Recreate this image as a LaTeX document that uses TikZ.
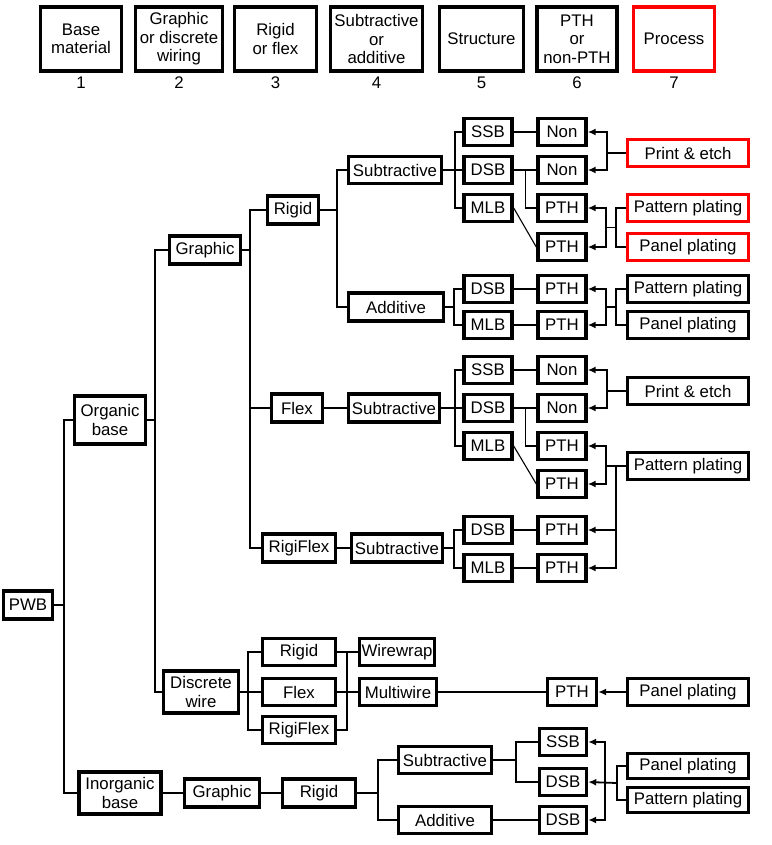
\documentclass[tikz,border=0pt]{standalone}
\usepackage{fontspec}
\setmainfont{Liberation Sans}
\usetikzlibrary{arrows.meta, positioning, calc}

\begin{document}
\begin{tikzpicture}[x=1pt, y=-1pt, font=\fontsize{16.8}{18.5}\selectfont]
    \tikzstyle{block} = [rectangle, draw=black, line width=3.4pt, inner sep=0pt, minimum height=27pt, align=center]
    \tikzstyle{head} = [block, minimum height=64pt]
    \tikzstyle{proc} = [block, minimum width=121pt]
    \tikzstyle{redproc} = [proc, draw=red]
    \tikzstyle{small} = [block, minimum width=48pt]
    \tikzstyle{wire} = [line width=1.8pt]
    \tikzstyle{thin} = [line width=1.1pt]
    \tikzstyle{arrow} = [wire, -{Latex[length=8pt,width=7pt]}]

    \useasboundingbox (0,0) rectangle (771,845);

    % header row
    \node[head, minimum width=81pt] (h1) at (81,39) {Base\\material};
    \node[head, minimum width=87pt] (h2) at (179,39) {Graphic\\or discrete\\wiring};
    \node[head, minimum width=82pt] (h3) at (275.5,39) {Rigid\\or flex};
    \node[head, minimum width=92pt] (h4) at (376.5,39) {Subtractive\\or\\additive};
    \node[head, minimum width=84pt] (h5) at (481.5,39) {Structure};
    \node[head, minimum width=80pt] (h6) at (577,39) {PTH\\or\\non-PTH};
    \node[head, minimum width=81pt, draw=red] (h7) at (674,39) {Process};
    \foreach \i in {1,...,7}
        \node[below=1pt of h\i] (n\i) {\i};

    % base material
    \node[block, minimum width=49pt, minimum height=28pt] (pwb) at (28,605) {PWB};
    \node[block, minimum width=71pt, minimum height=48pt] (orgbase) at (110,420) {Organic\\base};
    \node[block, minimum width=82pt, minimum height=42pt] (inorgbase) at (120,793) {Inorganic\\base};

    % graphic / discrete
    \node[block, minimum width=71pt, minimum height=28pt] (graphic) at (205,250) {Graphic};
    \node[block, minimum width=75pt, minimum height=42pt] (discrete) at (201,692) {Discrete\\wire};

    % rigid / flex
    \node[block, minimum width=51pt, minimum height=28pt] (rigid) at (293,210) {Rigid};
    \node[block, minimum width=51pt, minimum height=28pt] (flex) at (297,408) {Flex};
    \node[block, minimum width=73pt, minimum height=28pt] (rigiflex) at (299,548) {RigiFlex};

    % subtractive / additive
    \node[block, minimum width=93pt] (sub1) at (395,170) {Subtractive};
    \node[block, minimum width=95pt, minimum height=28pt] (add1) at (396,307) {Additive};
    \node[block, minimum width=91pt, minimum height=28pt] (sub2) at (394,408) {Subtractive};
    \node[block, minimum width=91pt, minimum height=28pt] (sub3) at (397,548) {Subtractive};

    % structure
    \node[small] (ssb1) at (488,132) {SSB};
    \node[small] (dsb1) at (488,170) {DSB};
    \node[small] (mlb1) at (488,208) {MLB};
    \node[small] (dsb2) at (488,289) {DSB};
    \node[small] (mlb2) at (488,325) {MLB};
    \node[small] (ssb3) at (488,370) {SSB};
    \node[small] (dsb3) at (488,408) {DSB};
    \node[small] (mlb3) at (488,446) {MLB};
    \node[small] (dsb4) at (488,530) {DSB};
    \node[small] (mlb4) at (488,568) {MLB};

    % PTH or non-PTH
    \node[small] (non1) at (562,132) {Non};
    \node[small] (non2) at (562,170) {Non};
    \node[small] (pth1) at (562,208) {PTH};
    \node[small] (pth2) at (562,247) {PTH};
    \node[small] (pth3) at (562,289) {PTH};
    \node[small] (pth4) at (562,325) {PTH};
    \node[small] (non3) at (562,370) {Non};
    \node[small] (non4) at (562,408) {Non};
    \node[small] (pth5) at (562,446) {PTH};
    \node[small] (pth6) at (562,484) {PTH};
    \node[small] (pth7) at (562,530) {PTH};
    \node[small] (pth8) at (562,568) {PTH};

    % process
    \node[redproc] (printA) at (688,153) {Print \& etch};
    \node[redproc] (pattA) at (688,208) {Pattern plating};
    \node[redproc] (panelA) at (688,247) {Panel plating};
    \node[proc] (pattB) at (688,289) {Pattern plating};
    \node[proc] (panelB) at (688,325) {Panel plating};
    \node[proc] (printB) at (688,391) {Print \& etch};
    \node[proc] (pattC) at (688,466) {Pattern plating};

    % discrete wire branch
    \node[block, minimum width=73pt] (drigid) at (299,652) {Rigid};
    \node[block, minimum width=73pt] (dflex) at (299,692) {Flex};
    \node[block, minimum width=73pt] (drigiflex) at (299,730) {RigiFlex};
    \node[block, minimum width=75pt] (wirewrap) at (397,652) {Wirewrap};
    \node[block, minimum width=77pt] (multiwire) at (398,692) {Multiwire};
    \node[block, minimum width=49pt] (pthD) at (572,692) {PTH};
    \node[proc] (panelD) at (688,692) {Panel plating};

    % inorganic branch
    \node[block, minimum width=75pt, minimum height=28pt] (igraphic) at (222,793) {Graphic};
    \node[block, minimum width=73pt, minimum height=28pt] (irigid) at (319,793) {Rigid};
    \node[block, minimum width=93pt] (isub) at (445,760) {Subtractive};
    \node[block, minimum width=93pt] (iadd) at (445,820) {Additive};
    \node[block, minimum width=47pt] (issb) at (563,742) {SSB};
    \node[block, minimum width=47pt] (idsb) at (563,782) {DSB};
    \node[block, minimum width=47pt] (idsb2) at (563,820) {DSB};
    \node[proc, minimum height=25pt] (panelE) at (688,766) {Panel plating};
    \node[proc, minimum height=25pt] (pattE) at (688,800) {Pattern plating};

    % tree lines
    \draw[wire] (pwb.east) -- ++(10,0) |- (orgbase.west);
    \draw[wire] (pwb.east) -- ++(10,0) |- (inorgbase.west);
    \draw[wire] (orgbase.east) -- ++(8,0) |- (graphic.west);
    \draw[wire] (orgbase.east) -- ++(8,0) |- (discrete.west);
    \draw[wire] (graphic.east) -- ++(8,0) |- (rigid.west);
    \draw[wire] (graphic.east) -- ++(8,0) |- (flex.west);
    \draw[wire] (graphic.east) -- ++(8,0) |- (rigiflex.west);
    \draw[wire] (rigid.east) -- ++(17,0) |- (sub1.west);
    \draw[wire] (rigid.east) -- ++(17,0) |- (add1.west);
    \draw[thin] (flex) -- (sub2);
    \draw[wire] (rigiflex) -- (sub3);

    % rigid subtractive
    \draw[wire] (sub1.east) -- ++(12,0) |- (ssb1.west);
    \draw[wire] (sub1.east) -- ++(12,0) |- (mlb1.west);
    \draw[wire] (sub1) -- (dsb1);
    \draw[thin] (ssb1) -- (non1);
    \draw[thin] (dsb1) -- (non2);
    \draw[thin] (dsb1.east) -- ++(12,0) |- (pth1.west);
    \draw[thin] (mlb1.east) -- (pth2.west);

    % rigid additive
    \draw[wire] (add1.east) -- ++(9,0) |- (dsb2.west);
    \draw[wire] (add1.east) -- ++(9,0) |- (mlb2.west);
    \draw[wire] (dsb2) -- (pth3);
    \draw[wire] (mlb2) -- (pth4);

    % flex subtractive
    \draw[wire] (sub2.east) -- ++(14,0) |- (ssb3.west);
    \draw[wire] (sub2.east) -- ++(14,0) |- (mlb3.west);
    \draw[wire] (sub2) -- (dsb3);
    \draw[thin] (ssb3) -- (non3);
    \draw[thin] (dsb3) -- (non4);
    \draw[thin] (dsb3.east) -- ++(12,0) |- (pth5.west);
    \draw[thin] (mlb3.east) -- (pth6.west);

    % rigiflex subtractive
    \draw[wire] (sub3.east) -- ++(10,0) |- (dsb4.west);
    \draw[wire] (sub3.east) -- ++(10,0) |- (mlb4.west);
    \draw[wire] (dsb4) -- (pth7);
    \draw[wire] (mlb4) -- (pth8);

    % process arrows
    \draw[arrow] (printA.west) -- ++(-19,0) |- (non1.east);
    \draw[arrow] (printA.west) -- ++(-19,0) |- (non2.east);
    \draw[wire] (pattA.west) -- ++(-10,0) |- (panelA.west);
    \coordinate (jA) at ($(pattA.west)!.5!(panelA.west)+(-10,0)$);
    \draw[arrow] (jA) -- ++(-10,0) |- (pth1.east);
    \draw[arrow] (jA) -- ++(-10,0) |- (pth2.east);

    \draw[wire] (pattB.west) -- ++(-10,0) |- (panelB.west);
    \coordinate (jB) at ($(pattB.west)!.5!(panelB.west)+(-10,0)$);
    \draw[arrow] (jB) -- ++(-10,0) |- (pth3.east);
    \draw[arrow] (jB) -- ++(-10,0) |- (pth4.east);

    \draw[arrow] (printB.west) -- ++(-19,0) |- (non3.east);
    \draw[arrow] (printB.west) -- ++(-19,0) |- (non4.east);

    \draw[arrow] (pattC.west) -- ++(-20,0) |- (pth5.east);
    \draw[arrow] (pattC.west) -- ++(-20,0) |- (pth6.east);
    \draw[arrow] (pattC.west) -- ++(-10,0) |- (pth7.east);
    \draw[arrow] (pattC.west) -- ++(-10,0) |- (pth8.east);

    % discrete wire lines
    \draw[wire] (discrete.east) -- ++(8,0) |- (drigid.west);
    \draw[wire] (discrete.east) -- ++(8,0) |- (drigiflex.west);
    \draw[wire] (discrete) -- (dflex);
    \draw[wire] (drigiflex.east) -- ++(10,0) |- (wirewrap.west);
    \draw[wire] (drigid) -- (wirewrap);
    \draw[wire] (dflex) -- (multiwire);
    \draw[wire] (multiwire) -- (pthD);
    \draw[arrow] (panelD) -- (pthD);

    % inorganic lines
    \draw[wire] (inorgbase) -- (igraphic);
    \draw[wire] (igraphic) -- (irigid);
    \draw[wire] (irigid.east) -- ++(21,0) |- (isub.west);
    \draw[wire] (irigid.east) -- ++(21,0) |- (iadd.west);
    \draw[wire] (isub.east) -- ++(23,0) |- (issb.west);
    \draw[wire] (isub.east) -- ++(23,0) |- (idsb.west);
    \draw[wire] (iadd) -- (idsb2);
    \draw[wire] (panelE.west) -- ++(-9,0) |- (pattE.west);
    \coordinate (jE) at ($(panelE.west)!.5!(pattE.west)+(-9,0)$);
    \draw[arrow] (jE) -- (idsb.east);
    \draw[arrow] (jE) ++(-12,0) |- (issb.east);
    \draw[arrow] (jE) ++(-12,0) |- (idsb2.east);
\end{tikzpicture}
\end{document}
